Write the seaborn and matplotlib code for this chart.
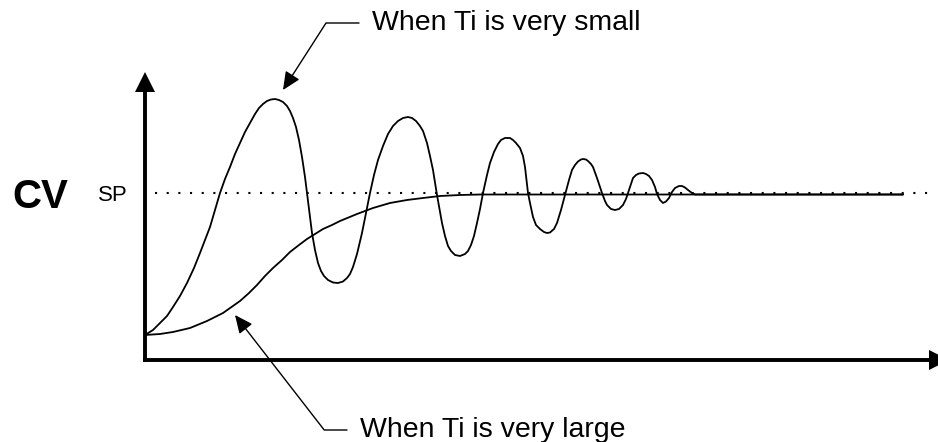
import matplotlib
matplotlib.use('Agg')
import matplotlib.pyplot as plt
import pandas
import seaborn as sns

# response of CV over time (arbitrary units)
small_ti_t = [0, 8, 15, 22, 28, 35, 42, 49, 55, 60, 65, 70, 75, 80, 85, 90, 95, 100, 105, 110,
              114, 118, 122, 126, 130, 134, 138, 142, 145, 148, 151, 154, 157, 160, 162, 165,
              167, 170, 173, 176, 179, 183, 188, 193, 198, 202, 205, 208, 212, 217, 221, 225,
              229, 233, 238, 243, 248, 253, 258, 263, 267, 271, 275, 278, 282, 285, 288, 292,
              295, 297, 300, 303, 306, 310, 315, 320, 323, 326, 329, 332, 335, 338, 342, 345,
              349, 353, 356, 360, 365, 368, 371, 375, 378, 380, 383, 385, 388, 391, 395, 399,
              402, 405, 409, 412, 416, 420, 424, 427, 430, 433, 436, 438, 441, 443, 446, 448,
              452, 457, 460, 462, 466, 470, 474, 478, 481, 483, 486, 488, 491, 494, 498, 501,
              504, 507, 510, 512, 515, 518, 521, 524, 527, 530, 534, 537, 540, 543, 547, 550,
              758]
small_ti_cv = [25, 30, 37, 44, 53, 64, 77, 92, 107, 120, 133, 150, 167, 181, 193, 206, 217, 228,
               237, 246, 252, 256, 259, 260.5, 261, 260, 258, 254, 249, 242, 233, 220, 203, 183,
               167, 143, 127, 110, 97, 89, 84, 80, 77.5, 77, 78.5, 82, 86, 93, 106, 127, 147,
               167, 185, 200, 214, 226, 234, 239, 242, 243, 242, 239, 234, 229, 217, 204, 190,
               165, 148, 137, 124, 114, 109, 105, 104, 106, 109, 115, 124, 137, 151, 167, 185,
               197, 208, 216, 220, 222, 222, 220, 217, 212, 204, 193, 167, 157, 143, 135, 131,
               128, 127, 127.5, 131, 137, 150, 165, 180, 190, 195, 198.5, 200.5, 201, 200.5, 199,
               196, 193, 182, 167, 159, 155, 151, 150, 151, 155, 161, 167, 176, 182, 185, 186.5,
               187, 186, 184, 180, 173, 166, 160, 157, 158.5, 162, 168, 172, 174, 174, 172.5,
               170, 167, 165.5, 165.5]

large_ti_t = [0, 15, 28, 45, 62, 78, 95, 104, 112, 120, 128, 137, 145, 154, 162, 170, 178, 187,
              195, 212, 228, 245, 262, 278, 295, 315, 335, 758]
large_ti_cv = [25, 26, 28, 32, 39, 47, 59, 67, 75, 84, 92, 100, 108, 115, 121, 126, 131, 135,
               139, 146, 152, 157, 160, 162, 164, 165, 165.5, 165.5]

setpoint = 167
sp_start, sp_end = 10, 785

small = pandas.DataFrame({'t': small_ti_t, 'cv': small_ti_cv})
large = pandas.DataFrame({'t': large_ti_t, 'cv': large_ti_cv})

sns.set_style('white')
plt.rcParams['font.family'] = ['Liberation Sans', 'DejaVu Sans']
plt.rcParams['text.color'] = 'black'

W, H = 938, 442
fig = plt.figure(figsize=(W / 100, H / 100), dpi=100)
ax = fig.add_axes([145 / W, 82 / H, 794 / W, 278 / H])
ax.set_xlim(0, 794)
ax.set_ylim(0, 278)

ax.hlines(setpoint, sp_start, sp_end, color='black', linewidth=1.5, linestyles=(0, (1, 4.6)))
sns.lineplot(data=large, x='t', y='cv', color='black', linewidth=1.3, estimator=None, ax=ax)
sns.lineplot(data=small, x='t', y='cv', color='black', linewidth=1.3, estimator=None, ax=ax)

for side in ['top', 'right']:
    ax.spines[side].set_visible(False)
for side in ['left', 'bottom']:
    ax.spines[side].set_linewidth(2.8)
    ax.spines[side].set_color('black')
ax.set_xticks([])
ax.set_yticks([])
ax.set_xlabel('')
ax.set_ylabel('')
ax.plot(1, 0, '>', color='black', ms=14.4, mew=0, transform=ax.transAxes, clip_on=False)
ax.plot(0, 1, '^', color='black', ms=14.4, mew=0, transform=ax.transAxes, clip_on=False)

fig.text(12 / W, 1 - 193 / H, 'CV', ha='left', va='center_baseline', fontsize=29,
         fontweight='bold', color='black')
ax.text(-17, setpoint, 'SP', ha='right', va='center_baseline', fontsize=16, color='black')

head = '-|>,head_length=0.55,head_width=0.25'
ax.annotate('When Ti is very small', xy=(138, 270), xytext=(227, 340),
            ha='left', va='center_baseline', fontsize=20.5, color='black', annotation_clip=False,
            arrowprops=dict(arrowstyle=head, mutation_scale=20, color='black', lw=1,
                            shrinkA=7, shrinkB=0,
                            connectionstyle='angle,angleA=0,angleB=57.3,rad=0'))
ax.annotate('When Ti is very large', xy=(90, 45), xytext=(215, -67),
            ha='left', va='center_baseline', fontsize=20.5, color='black', annotation_clip=False,
            arrowprops=dict(arrowstyle=head, mutation_scale=20, color='black', lw=1,
                            shrinkA=7, shrinkB=0,
                            connectionstyle='angle,angleA=0,angleB=127.8,rad=0'))

fig.savefig('out.png', dpi=100, facecolor='white')
